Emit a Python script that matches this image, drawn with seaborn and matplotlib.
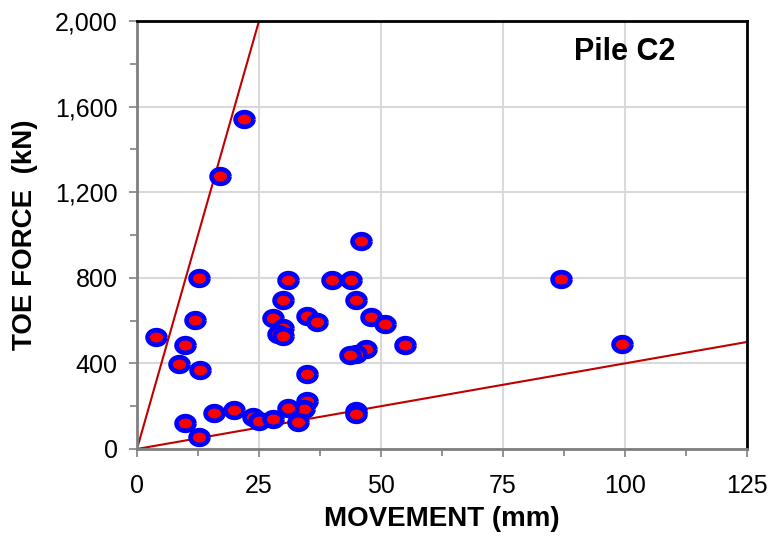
import numpy as np
import pandas as pd
import seaborn as sns
import matplotlib.pyplot as plt
from matplotlib.ticker import MultipleLocator, FuncFormatter

# datos: movimiento (mm) y fuerza en punta (kN)
movement = [12.8, 30.9, 39.9, 43.9, 29.9, 44.9, 11.9, 27.9, 34.9, 36.9,
            47.9, 50.9, 29.9, 28.8, 29.9, 3.8, 9.8, 54.9, 46.9, 44.9,
            43.6, 8.7, 12.9, 34.9, 34.9, 34.3, 30.9, 19.9, 15.8, 23.8,
            24.9, 27.9, 32.9, 44.9, 44.9, 9.8, 12.8, 21.9, 17.1, 45.9,
            86.9, 99.4]
toe_force = [800, 790, 790, 790, 695, 695, 605, 612, 623, 592,
             619, 586, 567, 539, 530, 524, 488, 486, 469, 446,
             437, 398, 371, 350, 225, 188, 190, 182, 169, 151,
             130, 140, 124, 176, 165, 120, 57, 1542, 1276, 970,
             793, 490]

# lineas de referencia
upper_x = [0, 25]
upper_y = [0, 2000]
lower_x = [0, 125]
lower_y = [0, 500]

df = pd.DataFrame({"movement": movement, "toe_force": toe_force})

sns.set_style("white")
plt.rcParams["font.family"] = ["Liberation Sans Narrow", "Liberation Sans", "DejaVu Sans"]
plt.rcParams["text.color"] = "black"
plt.rcParams["axes.labelcolor"] = "black"
plt.rcParams["xtick.labelcolor"] = "black"
plt.rcParams["ytick.labelcolor"] = "black"

fig = plt.figure(figsize=(7.77, 5.41), dpi=100)
ax = fig.add_axes([0.1763, 0.1701, 0.7851, 0.7911])

ax.plot(upper_x, upper_y, color="#c00000", lw=1.5, zorder=2)
ax.plot(lower_x, lower_y, color="#c00000", lw=1.5, zorder=2)

t = np.linspace(0, 2 * np.pi, 40)
ellipse = list(zip(np.cos(t), 0.82 * np.sin(t)))
sns.scatterplot(data=df, x="movement", y="toe_force", ax=ax, marker=ellipse,
                s=165, color="red", edgecolor="blue", linewidth=3.4, zorder=3)

ax.set_xlim(0, 125)
ax.set_ylim(0, 2000)
ax.xaxis.set_major_locator(MultipleLocator(25))
ax.xaxis.set_minor_locator(MultipleLocator(12.5))
ax.yaxis.set_major_locator(MultipleLocator(400))
ax.yaxis.set_minor_locator(MultipleLocator(200))
ax.yaxis.set_major_formatter(FuncFormatter(lambda v, p: f"{int(v):,}"))
ax.grid(which="major", color="#d9d9d9", lw=1.5, zorder=0)

for s in ["left", "bottom"]:
    ax.spines[s].set_color("#808080")
    ax.spines[s].set_linewidth(2)
for s in ["top", "right"]:
    ax.spines[s].set_color("black")
    ax.spines[s].set_linewidth(2)

ax.tick_params(which="both", direction="out", color="#808080", width=1.2,
               bottom=True, left=True)
ax.tick_params(which="major", length=6, labelsize=18, pad=8)
ax.tick_params(axis="x", which="major", pad=12)
ax.tick_params(which="minor", length=5)

ax.set_xlabel("MOVEMENT (mm)", fontsize=20, fontweight="bold", labelpad=6)
ax.set_ylabel("TOE FORCE  (kN)", fontsize=20, fontweight="bold", labelpad=12)
ax.text(0.8, 0.928, "Pile C2", transform=ax.transAxes, fontsize=22,
        fontweight="bold", ha="center", va="center")

plt.savefig("out.png", dpi=100)
